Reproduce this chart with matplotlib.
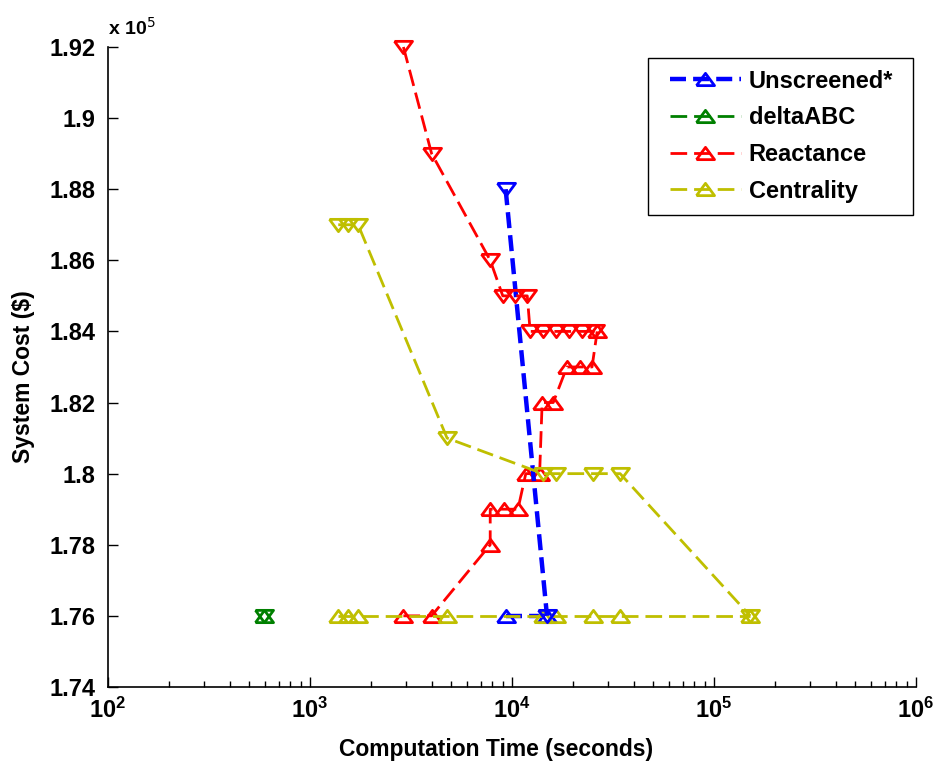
import matplotlib
matplotlib.use("Agg")
import matplotlib.pyplot as plt
from matplotlib.patches import Rectangle
from matplotlib.ticker import FixedLocator, FuncFormatter, LogLocator, NullFormatter

plt.rcParams['font.family'] = ['Liberation Sans', 'DejaVu Sans']

# ---- data (time in seconds, cost in $) ----
series_names = ["Unscreened*", "deltaABC", "Reactance", "Centrality"]
series_colors = ["#0000ff", "#008000", "#ff0000", "#bfbf00"]

unscreened_lower_t = [9300, 14900]
unscreened_lower_c = [1.76e5, 1.76e5]
unscreened_upper_t = [9300, 14900]
unscreened_upper_c = [1.88e5, 1.76e5]

delta_lower_t = [590]
delta_lower_c = [1.76e5]
delta_upper_t = [590]
delta_upper_c = [1.76e5]

react_lower_t = [2900, 4000, 7800, 7800, 9100, 10700, 11700, 13700, 14100, 16000, 18700, 21700, 24900, 26400]
react_lower_c = [1.76e5, 1.76e5, 1.78e5, 1.79e5, 1.79e5, 1.79e5, 1.80e5, 1.80e5, 1.82e5, 1.82e5, 1.83e5, 1.83e5, 1.83e5, 1.84e5]
react_upper_t = [2900, 4000, 7800, 9000, 10300, 11900, 12300, 14200, 16500, 19200, 22200, 25800]
react_upper_c = [1.92e5, 1.89e5, 1.86e5, 1.85e5, 1.85e5, 1.85e5, 1.84e5, 1.84e5, 1.84e5, 1.84e5, 1.84e5, 1.84e5]

cent_t = [1380, 1540, 1730, 4770, 14200, 16500, 25200, 34300, 151000]
cent_lower_c = [1.76e5] * 9
cent_upper_c = [1.87e5, 1.87e5, 1.87e5, 1.81e5, 1.80e5, 1.80e5, 1.80e5, 1.80e5, 1.76e5]

y_ticks = [1.74e5, 1.76e5, 1.78e5, 1.80e5, 1.82e5, 1.84e5, 1.86e5, 1.88e5, 1.90e5, 1.92e5]

lower = [(unscreened_lower_t, unscreened_lower_c), (delta_lower_t, delta_lower_c),
         (react_lower_t, react_lower_c), (cent_t, cent_lower_c)]
upper = [(unscreened_upper_t, unscreened_upper_c), (delta_upper_t, delta_upper_c),
         (react_upper_t, react_upper_c), (cent_t, cent_upper_c)]
lws = [3.2, 2.0, 2.0, 2.0]
dash_styles = [(0, (3.6, 1.6)), (0, (6, 2.5)), (0, (6, 2.5)), (0, (6, 2.5))]

tri_up = [(-1, -0.68), (1, -0.68), (0, 0.68), (-1, -0.68)]
tri_dn = [(-1, 0.68), (1, 0.68), (0, -0.68), (-1, 0.68)]

fig = plt.figure(figsize=(9.35, 7.65), dpi=100)
ax = fig.add_axes([0.1155, 0.102, 0.8642, 0.8366])

handles = []
for (t, c), col, lw, ds, name in zip(lower, series_colors, lws, dash_styles, series_names):
    h, = ax.plot(t, c, linestyle=ds, color=col, lw=lw, marker=tri_up, markersize=13,
                 markerfacecolor='none', markeredgecolor=col, markeredgewidth=2.0,
                 label=name, clip_on=False)
    handles.append(h)
for (t, c), col, lw, ds in zip(upper, series_colors, lws, dash_styles):
    ax.plot(t, c, linestyle=ds, color=col, lw=lw, marker=tri_dn, markersize=13,
            markerfacecolor='none', markeredgecolor=col, markeredgewidth=2.0, clip_on=False)

ax.set_xscale('log')
ax.set_xlim(1e2, 1e6)
ax.set_ylim(1.74e5, 1.92e5)
ax.yaxis.set_major_locator(FixedLocator(y_ticks))
ax.yaxis.set_major_formatter(FuncFormatter(lambda v, p: "%g" % round(v / 1e5, 4)))
ax.xaxis.set_major_locator(LogLocator(base=10, numticks=10))
ax.xaxis.set_minor_locator(LogLocator(base=10, subs=range(2, 10), numticks=100))
ax.xaxis.set_minor_formatter(NullFormatter())

for s in ['top', 'right']:
    ax.spines[s].set_visible(False)
for s in ['left', 'bottom']:
    ax.spines[s].set_linewidth(1.2)
ax.tick_params(axis='both', which='major', direction='in', length=7, width=1, labelsize=17)
ax.tick_params(axis='x', which='minor', direction='in', length=4, width=1)
for lab in ax.get_xticklabels() + ax.get_yticklabels():
    lab.set_fontweight('bold')
ax.tick_params(axis='y', pad=9)
ax.tick_params(axis='x', pad=8)

ax.text(0.0, 1.012, r"x 10$^{5}$", transform=ax.transAxes, fontsize=14, fontweight='bold',
        ha='left', va='bottom')

ax.set_xlabel("Computation Time (seconds)", fontsize=16.5, fontweight='bold')
ax.xaxis.set_label_coords(0.48, -0.079)
ax.set_ylabel("System Cost ($)", fontsize=16.5, fontweight='bold')
ax.yaxis.set_label_coords(-0.09, 0.485)

leg = ax.legend(handles=handles, loc='upper right', bbox_to_anchor=(0.9864, 0.983),
                borderaxespad=0.0, fontsize=17, frameon=False,
                handlelength=3.0, handletextpad=0.35, borderpad=0.5, labelspacing=0.58)
leg.set_zorder(10)
for t in leg.get_texts():
    t.set_fontweight('bold')

# legend frame with extra horizontal padding (MATLAB style), drawn beneath the legend
fig.canvas.draw()
bb = leg.get_window_extent()
inv = fig.transFigure.inverted()
(x0, y0) = inv.transform((bb.x0 - 10, bb.y0))
(x1, y1) = inv.transform((bb.x1 + 8, bb.y1))
frame = Rectangle((x0, y0), x1 - x0, y1 - y0, transform=fig.transFigure, clip_on=False,
                  facecolor='white', edgecolor='black', lw=1.0, zorder=9)
ax.add_artist(frame)

fig.savefig("out.png", dpi=100)
